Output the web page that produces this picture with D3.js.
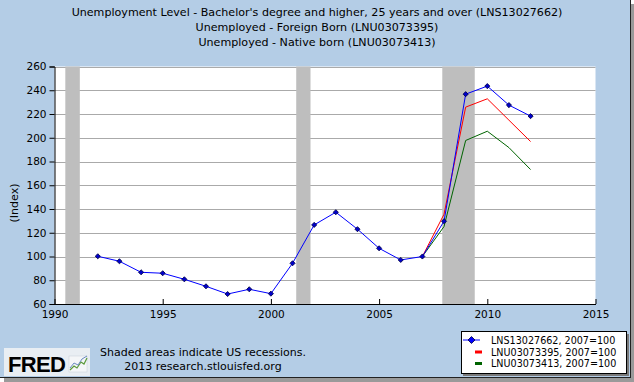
<!DOCTYPE html>
<html>
<head>
<meta charset="utf-8">
<script src="https://cdn.jsdelivr.net/npm/d3@7"></script>
<style>
html,body{margin:0;padding:0;background:#fff;}
svg{display:block;}
text{font-family:"DejaVu Sans",Verdana,sans-serif;fill:#000;}
</style>
</head>
<body>
<svg id="chart" width="634" height="382"></svg>
<script>
// ---- data ----
const titleLines = [
  "Unemployment Level - Bachelor's degree and higher, 25 years and over (LNS13027662)",
  "Unemployed - Foreign Born (LNU03073395)",
  "Unemployed - Native born (LNU03073413)"
];
const years = [1992,1993,1994,1995,1996,1997,1998,1999,2000,2001,2002,2003,2004,2005,2006,2007,2008,2009,2010,2011,2012];
const lnsValues = [100.2,96.0,86.7,85.9,80.8,74.9,68.4,72.4,68.7,94.3,126.6,137.3,123.0,106.9,97.1,100,129.7,236.7,243.5,227.5,218.2];
const bornYears = [2007,2008,2009,2010,2011,2012];
const foreignValues = [100,135.6,225.8,232.8,214.8,196.8];
const nativeValues = [100,125.2,197.7,205.5,191.7,173.2];
const recessionStart = [1990.5, 2001.17, 2007.92];
const recessionEnd = [1991.17, 2001.83, 2009.42];
const xTicks = [1990,1995,2000,2005,2010,2015];
const yTicks = [60,80,100,120,140,160,180,200,220,240,260];
const legendLabels = ["LNS13027662, 2007=100","LNU03073395, 2007=100","LNU03073413, 2007=100"];
const seriesColors = ["#0000ff","#ff0000","#006400"];

// ---- drawing ----
(function(){
const svg = d3.select("#chart");

// frame shadow + background
svg.append("rect").attr("x",4).attr("y",4).attr("width",630).attr("height",378).attr("fill","#9a9a9a");
svg.append("rect").attr("x",0).attr("y",0).attr("width",630).attr("height",377).attr("fill","#b4cde6");
svg.append("line").attr("x1",630.5).attr("x2",630.5).attr("y1",0).attr("y2",378).attr("stroke","#222").attr("stroke-width",1);
svg.append("line").attr("x1",0).attr("x2",631).attr("y1",377.5).attr("y2",377.5).attr("stroke","#222").attr("stroke-width",1);

const pLeft = 54.5, pRight = 595.5, pTop = 66.5, pBottom = 304;
const x = d3.scaleLinear().domain([1990,2015]).range([pLeft,pRight]);
const y = d3.scaleLinear().domain([60,260]).range([pBottom,pTop]);

// plot background
svg.append("rect").attr("x",pLeft).attr("y",pTop).attr("width",pRight-pLeft).attr("height",pBottom-pTop).attr("fill","#fff");

// gridlines
svg.append("g").selectAll("line").data(yTicks.filter(d=>d>60)).join("line")
  .attr("x1",pLeft).attr("x2",pRight)
  .attr("y1",d=>Math.round(y(d))+0.5).attr("y2",d=>Math.round(y(d))+0.5)
  .attr("stroke","#aaaaaa").attr("stroke-width",1);

// recessions
svg.append("g").selectAll("rect").data(recessionStart).join("rect")
  .attr("x",(d)=>x(d))
  .attr("width",(d,i)=>x(recessionEnd[i])-x(d))
  .attr("y",pTop).attr("height",pBottom-pTop)
  .attr("fill","#bebebe");

// axes
const yAxis = d3.axisLeft(y).tickValues(yTicks).tickSize(5).tickPadding(3).tickFormat(d3.format("d"));
const gy = svg.append("g").attr("transform",`translate(${pLeft},0)`).call(yAxis);
gy.select(".domain").attr("stroke","#000");
gy.selectAll(".tick line").attr("stroke","#000");
gy.selectAll("text").style("font-size","10.5px").style("font-family","'DejaVu Sans',sans-serif").attr("fill","#000");

const xAxis = d3.axisBottom(x).tickValues(xTicks).tickSize(0).tickPadding(7).tickFormat(d3.format("d"));
const gx = svg.append("g").attr("transform",`translate(0,${pBottom})`).call(xAxis);
gx.select(".domain").attr("stroke","#000");
gx.selectAll("text").style("font-size","10.5px").style("font-family","'DejaVu Sans',sans-serif").attr("fill","#000");
gx.selectAll(".tick").append("line").attr("y1",0).attr("y2",-5).attr("stroke","#000");

// lines
const lineGen = (xs)=>d3.line().x((d,i)=>x(xs[i])).y(d=>y(d));
svg.append("path").datum(nativeValues).attr("d",lineGen(bornYears))
  .attr("fill","none").attr("stroke",seriesColors[2]).attr("stroke-width",1);
svg.append("path").datum(foreignValues).attr("d",lineGen(bornYears))
  .attr("fill","none").attr("stroke",seriesColors[1]).attr("stroke-width",1);
svg.append("path").datum(lnsValues).attr("d",lineGen(years))
  .attr("fill","none").attr("stroke",seriesColors[0]).attr("stroke-width",1);

const diamond = d3.symbol().type(d3.symbolSquare).size(13);
svg.append("g").selectAll("path").data(lnsValues).join("path")
  .attr("d",diamond)
  .attr("transform",(d,i)=>`translate(${x(years[i])},${y(d)}) rotate(45)`)
  .attr("fill","#0000cc").attr("stroke","#000044").attr("stroke-width",0.8);

// titles
svg.append("g").selectAll("text").data(titleLines).join("text")
  .attr("x",317).attr("y",(d,i)=>16+i*15)
  .attr("text-anchor","middle").style("font-size","11.1px").text(d=>d);

// y label
svg.append("text").attr("transform","translate(18,203) rotate(-90)")
  .attr("text-anchor","middle").style("font-size","11px").text("(Index)");

// footnote
svg.append("text").attr("x",203).attr("y",356).attr("text-anchor","middle").style("font-size","11px").text("Shaded areas indicate US recessions.");
svg.append("text").attr("x",203).attr("y",370).attr("text-anchor","middle").style("font-size","11px").text("2013 research.stlouisfed.org");

// FRED logo
const logo = svg.append("g");
logo.append("rect").attr("x",4).attr("y",348).attr("width",86).attr("height",28).attr("fill","#e9eef3");
logo.append("text").attr("x",8).attr("y",372).style("font-size","22px").style("font-weight","bold")
  .style("font-family","'Liberation Sans',Arial,sans-serif").attr("fill","#1a1a1a").attr("textLength",58).text("FRED");
logo.append("rect").attr("x",69).attr("y",356).attr("width",18).attr("height",16).attr("fill","#f4f6f8").attr("stroke","#c8d0d8").attr("stroke-width",0.5);
logo.append("path").attr("d","M70,370 L74,366 L77,368 L81,362 L84,364 L87,358").attr("fill","none").attr("stroke","#5a9a3a").attr("stroke-width",1.2);
logo.append("path").attr("d","M70,368 L74,363 L78,365 L82,359 L87,356").attr("fill","none").attr("stroke","#6a8ac0").attr("stroke-width",1);

// legend
const lg = svg.append("g");
lg.append("rect").attr("x",463).attr("y",334).attr("width",166).attr("height",42).attr("fill","#7a7a7a");
lg.append("rect").attr("x",461.5).attr("y",331.5).attr("width",165).attr("height",42).attr("fill","#fff").attr("stroke","#000").attr("stroke-width",1);
const rowY = [340,352,363.5];
legendLabels.forEach((lab,i)=>{
  if(i===0){
    lg.append("line").attr("x1",463).attr("x2",480).attr("y1",rowY[i]).attr("y2",rowY[i]).attr("stroke",seriesColors[0]).attr("stroke-width",1);
    lg.append("path").attr("d",d3.symbol().type(d3.symbolSquare).size(24)).attr("transform",`translate(471.5,${rowY[i]}) rotate(45)`)
      .attr("fill","#0000ff").attr("stroke","#000044").attr("stroke-width",0.8);
  } else {
    lg.append("line").attr("x1",475).attr("x2",482).attr("y1",rowY[i]).attr("y2",rowY[i]).attr("stroke",seriesColors[i]).attr("stroke-width",3);
  }
  lg.append("text").attr("x",491).attr("y",rowY[i]+3.5).style("font-size","9.6px").text(lab);
});
})();
</script>
</body>
</html>
